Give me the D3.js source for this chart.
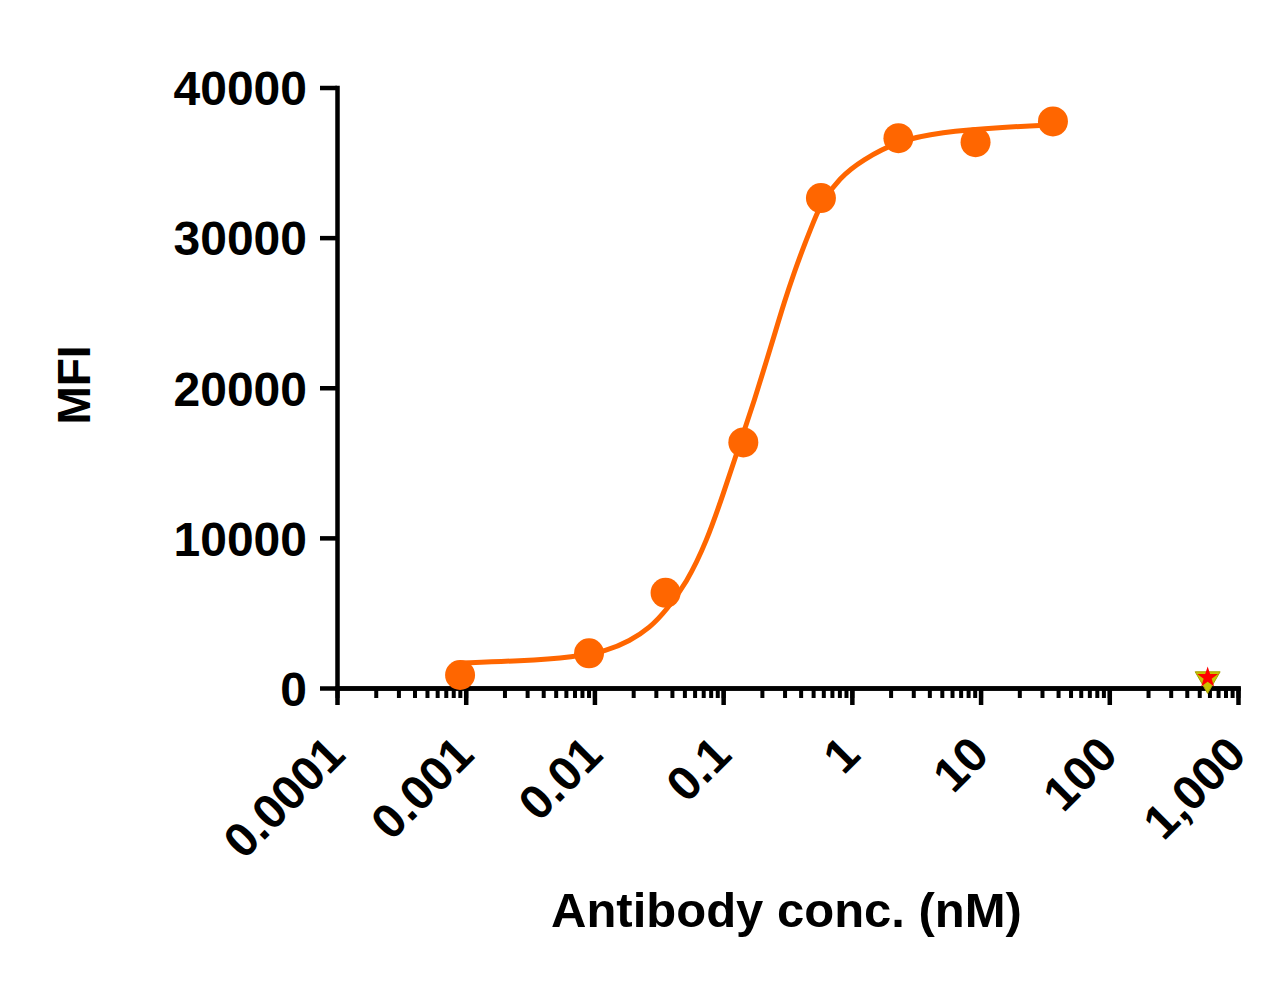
<!DOCTYPE html>
<html>
<head>
<meta charset="utf-8">
<script src="https://cdn.jsdelivr.net/npm/d3@7"></script>
<style>
  body { margin: 0; background: #fff; }
  text { font-family: Arial, "Liberation Sans", sans-serif; font-weight: bold; fill: #000; }
</style>
</head>
<body>
<svg id="chart" width="1269" height="981"></svg>
<script>
// measured points (antibody conc. in nM, MFI)
const conc = [0.000904, 0.00908, 0.0357, 0.1435, 0.575, 2.30, 9.14, 36.5];
const mfi = [865, 2310, 6343, 16359, 32632, 36626, 36360, 37737];

// fitted curve
const fitConc = [0.000904, 0.00264, 0.00703, 0.01245, 0.0188, 0.0269, 0.0363, 0.0519, 0.0743,
  0.1026, 0.1225, 0.1462, 0.1750, 0.2089, 0.2500, 0.2985, 0.3573, 0.4266, 0.5105, 0.578,
  0.798, 1.202, 2.286, 4.75, 15.7, 36.3];
const fitMfi = [1665, 1798, 2065, 2464, 3131, 3997, 5196, 6994, 9725,
  13189, 15187, 17186, 19184, 21316, 23514, 25712, 27710, 29509, 31174, 32306,
  33972, 35171, 36436, 37036, 37369, 37502];

// controls at the right edge
const ctrlConc = [581];
const ctrlTriangle = [600];
const ctrlStar = [700];

const xTicks = [0.0001, 0.001, 0.01, 0.1, 1, 10, 100, 1000];
const xTickLabels = ["0.0001", "0.001", "0.01", "0.1", "1", "10", "100", "1,000"];
const yTicks = [0, 10000, 20000, 30000, 40000];

const svg = d3.select("#chart");
const orange = "#ff6600";

const x = d3.scaleLog().domain([0.0001, 1000]).range([337, 1238]);
const y = d3.scaleLinear().domain([0, 40000]).range([688, 87.5]);

// y axis
const yAxis = svg.append("g")
    .attr("transform", "translate(337,0)")
    .call(d3.axisLeft(y).tickValues(yTicks).tickSize(17).tickSizeOuter(0).tickPadding(13).tickFormat(d3.format("d")));
yAxis.selectAll("text").style("font-size", "48px").attr("dy", "0.36em");

// x axis: minor ticks then major ticks
const xMinor = svg.append("g")
    .attr("transform", "translate(0,688)")
    .call(d3.axisBottom(x).tickValues(x.ticks()).tickSize(10).tickSizeOuter(0).tickFormat(""));
xMinor.selectAll("line").attr("stroke-width", 4);

const xAxis = svg.append("g")
    .attr("transform", "translate(0,688)")
    .call(d3.axisBottom(x).tickValues(xTicks).tickSize(17).tickSizeOuter(0)
      .tickFormat((d, i) => xTickLabels[i]));
xAxis.selectAll("text")
    .style("font-size", "48px")
    .attr("text-anchor", "end")
    .attr("x", 0).attr("y", 0).attr("dy", null)
    .attr("transform", "translate(10,69) rotate(-45)");

svg.selectAll(".domain").attr("stroke-width", 4.5).attr("stroke-linecap", "square");
yAxis.selectAll(".tick line").attr("stroke-width", 4.5);
xAxis.selectAll(".tick line").attr("stroke-width", 4.5);

// fit line
const line = d3.line()
    .x(d => x(d))
    .y((d, i) => y(fitMfi[i]))
    .curve(d3.curveBasis);
svg.append("path")
    .datum(fitConc)
    .attr("d", line)
    .attr("fill", "none")
    .attr("stroke", orange)
    .attr("stroke-width", 5);

// data points
svg.selectAll(".pt")
    .data(conc)
    .enter().append("circle")
    .attr("class", "pt")
    .attr("cx", d => x(d))
    .attr("cy", (d, i) => y(mfi[i]))
    .attr("r", 15)
    .attr("fill", orange);

// control symbols
svg.selectAll(".tri")
    .data(ctrlConc)
    .enter().append("path")
    .attr("class", "tri")
    .attr("d", d3.symbol().type(d3.symbolTriangle).size(270))
    .attr("transform", (d, i) => `translate(${x(d)},${y(ctrlTriangle[i])}) rotate(180)`)
    .attr("fill", "#c8c400")
    .attr("stroke", "#a8a000")
    .attr("stroke-width", 1);
svg.selectAll(".star")
    .data(ctrlConc)
    .enter().append("path")
    .attr("class", "star")
    .attr("d", d3.symbol().type(d3.symbolStar).size(136))
    .attr("transform", (d, i) => `translate(${x(d)},${y(ctrlStar[i])})`)
    .attr("fill", "#ff0000");

// axis titles
svg.append("text")
    .attr("x", 786.5)
    .attr("y", 927)
    .attr("text-anchor", "middle")
    .style("font-size", "49px")
    .text("Antibody conc. (nM)");
svg.append("text")
    .attr("transform", "translate(90,385) rotate(-90)")
    .attr("text-anchor", "middle")
    .style("font-size", "46px")
    .text("MFI");
</script>
</body>
</html>
